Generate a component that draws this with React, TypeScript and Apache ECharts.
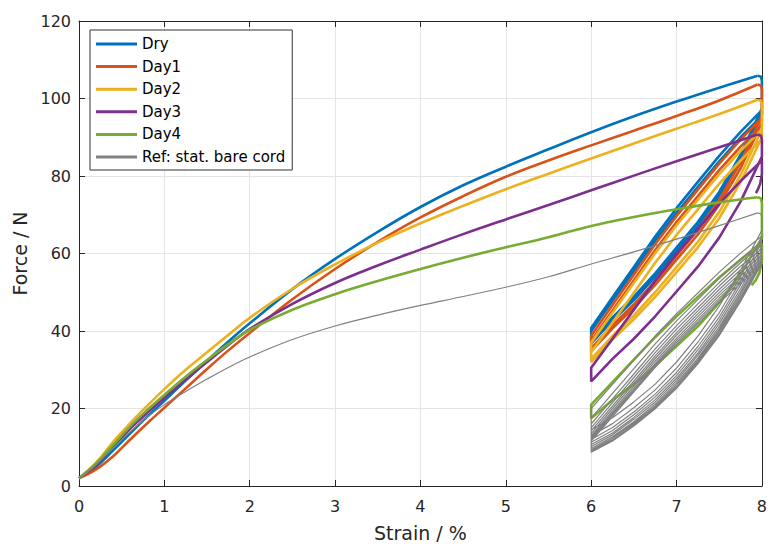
import React, { useEffect, useRef } from "react";
import * as echarts from "echarts";

// Initial ramp: strain (%) and force (N) for each specimen
const strainLoad = [0, 0.2, 0.4, 0.6, 0.8, 1.0, 1.25, 1.5, 1.75, 2.0, 2.5, 3.0, 3.5, 4.0, 4.5, 5.0, 5.5, 6.0, 6.5, 7.0, 7.5, 7.95];
const dryLoad = [2.0, 5.0, 9.2, 13.6, 17.9, 22.0, 27.2, 32.3, 37.3, 42.0, 50.8, 58.6, 65.6, 72.0, 77.6, 82.4, 86.9, 91.3, 95.4, 99.2, 102.8, 105.9];
const day1Load = [2.0, 4.3, 7.7, 12.0, 16.2, 20.2, 25.2, 30.2, 35.0, 39.5, 48.2, 56.0, 63.0, 69.3, 74.8, 79.8, 84.0, 87.9, 91.7, 95.5, 99.5, 103.6];
const day2Load = [2.0, 6.0, 11.4, 16.2, 20.7, 25.0, 30.0, 34.5, 39.0, 43.4, 50.9, 57.2, 62.8, 67.8, 72.3, 76.6, 80.6, 84.5, 88.4, 92.2, 96.0, 99.7];
const day3Load = [2.0, 5.4, 10.1, 14.8, 18.9, 22.8, 27.5, 32.0, 36.4, 40.5, 47.0, 52.4, 56.9, 61.0, 65.0, 68.8, 72.5, 76.3, 80.1, 83.8, 87.4, 90.7];
const day4Load = [2.0, 5.8, 10.6, 15.4, 19.6, 23.5, 28.2, 32.5, 36.6, 40.3, 45.5, 49.5, 52.9, 56.0, 58.9, 61.6, 64.2, 67.1, 69.4, 71.4, 73.2, 74.5];
const refLoad = [2.0, 5.5, 9.8, 14.0, 17.8, 21.0, 24.4, 27.6, 30.6, 33.3, 37.8, 41.3, 44.1, 46.6, 48.9, 51.3, 54.0, 57.3, 60.4, 63.7, 67.2, 70.5];

// Force drop right after the peak, at these strains
const peakDropStrain = [7.99, 8.0];
const dryPeakDrop = [105.6, 104.5];
const day1PeakDrop = [103.3, 102.3];
const day2PeakDrop = [99.4, 98.5];
const day3PeakDrop = [90.4, 89.4];
const day4PeakDrop = [74.2, 73.0];
const refPeakDrop = [70.2, 69.3];

// Cyclic part between 6 % and 8 % strain
const strainDown = [8, 7.75, 7.5, 7.25, 7, 6.75, 6.5, 6.25, 6];
const strainUp = [6, 6.25, 6.5, 6.75, 7, 7.25, 7.5, 7.75, 8];

const dryDown = [
  [97.5, 85.5, 75.9, 68.1, 61.5, 54.9, 48.9, 43.5, 37.5],
  [96.0, 84.2, 74.7, 67.0, 60.5, 54.0, 48.0, 42.7, 36.8],
];
const dryUp = [
  [40.8, 48.7, 56.5, 64.4, 71.7, 78.5, 85.2, 91.4, 97.0],
  [40.0, 47.8, 55.5, 63.3, 70.5, 77.2, 83.8, 90.0, 95.5],
];

const day1Down = [
  [95.5, 83.5, 73.9, 66.1, 59.5, 52.9, 46.9, 41.5, 35.5],
  [93.8, 82.0, 72.6, 64.9, 58.4, 51.9, 46.0, 40.7, 34.8],
];
const day1Up = [
  [38.8, 46.7, 54.5, 62.4, 69.7, 76.5, 83.2, 89.4, 95.0],
  [37.5, 45.3, 53.1, 60.9, 68.1, 74.8, 81.5, 87.6, 93.2],
];

const day2Down = [
  [92.0, 80.2, 70.7, 63.0, 56.5, 50.0, 44.0, 38.7, 32.8],
  [90.0, 78.4, 69.1, 61.6, 55.2, 48.8, 43.0, 37.8, 32.0],
];
const day2Up = [
  [37.0, 44.7, 52.4, 60.1, 67.3, 73.9, 80.5, 86.5, 92.0],
  [34.5, 42.2, 49.9, 57.6, 64.8, 71.4, 78.0, 84.0, 89.5],
];

const day3Down = [[85.0, 73.4, 64.1, 56.6, 50.2, 43.8, 38.0, 32.8, 27.0]];
const day3Up = [[30.5, 38.0, 45.5, 53.0, 59.9, 66.3, 72.8, 78.7, 84.0]];
const day3TailStrain = [8, 7.98, 7.95, 7.93];
const day3Tail = [80.5, 78.0, 76.4, 75.6];

const day4Down = [[64.0, 54.7, 47.3, 41.2, 36.1, 31.0, 26.3, 22.2, 17.5]];
const day4Up = [[21.0, 26.8, 32.6, 38.4, 43.8, 48.8, 53.8, 58.4, 62.5]];
const day4TailStrain = [8, 7.97, 7.93, 7.88];
const day4Tail = [58.0, 55.0, 53.2, 51.8];

const refDown = [
  [66.0, 55.7, 46.4, 38.7, 32.0, 26.3, 21.7, 17.6, 14.5],
  [64.2, 54.0, 44.7, 37.1, 30.4, 24.8, 20.2, 16.1, 13.0],
  [63.0, 52.8, 43.6, 36.0, 29.3, 23.7, 19.1, 15.1, 12.0],
  [62.0, 51.9, 42.7, 35.1, 28.5, 23.0, 18.4, 14.3, 11.3],
  [61.0, 50.9, 41.9, 34.3, 27.8, 22.3, 17.7, 13.7, 10.7],
  [60.1, 50.1, 41.1, 33.7, 27.2, 21.7, 17.2, 13.2, 10.2],
  [59.3, 49.4, 40.5, 33.0, 26.6, 21.1, 16.6, 12.7, 9.7],
  [58.6, 48.7, 39.9, 32.5, 26.1, 20.6, 16.2, 12.3, 9.3],
  [57.9, 48.1, 39.3, 32.0, 25.6, 20.2, 15.8, 11.9, 9.0],
  [57.3, 47.6, 38.8, 31.5, 25.2, 19.9, 15.5, 11.6, 8.7],
];
const refUp = [
  [20.0, 26.2, 32.5, 38.7, 44.5, 49.8, 55.2, 60.1, 64.5],
  [17.5, 23.9, 30.3, 36.7, 42.6, 48.1, 53.6, 58.6, 63.2],
  [16.0, 22.5, 28.9, 35.4, 41.4, 47.0, 52.5, 57.6, 62.2],
  [15.0, 21.5, 28.0, 34.4, 40.5, 46.0, 51.6, 56.7, 61.3],
  [14.2, 20.7, 27.1, 33.6, 39.6, 45.2, 50.7, 55.8, 60.4],
  [13.5, 20.0, 26.4, 32.9, 38.9, 44.4, 49.9, 55.0, 59.6],
  [12.9, 19.3, 25.8, 32.2, 38.1, 43.7, 49.2, 54.2, 58.8],
  [12.4, 18.8, 25.2, 31.6, 37.5, 43.0, 48.5, 53.5, 58.1],
  [12.0, 18.4, 24.7, 31.1, 37.0, 42.4, 47.9, 52.9, 57.4],
  [11.6, 17.9, 24.3, 30.6, 36.5, 41.9, 47.3, 52.3, 56.8],
];

const seriesNames = ["Dry", "Day1", "Day2", "Day3", "Day4", "Ref: stat. bare cord"];
const seriesColors = ["#0072BD", "#D95319", "#EDB120", "#7E2F8E", "#77AC30", "#808080"];

const FONT = "'DejaVu Sans', 'Liberation Sans', Arial, sans-serif";
const INK = "#262626";

type Pt = [number, number];

function zip(xs: number[], ys: number[]): Pt[] {
  return ys.map((y, i) => [xs[i], y] as Pt);
}

function cyclePath(load: number[], drop: number[], downs: number[][], ups: number[][], tailX: number[] = [], tail: number[] = []): Pt[] {
  const pts: Pt[] = [[strainLoad[strainLoad.length - 1], load[load.length - 1]]];
  pts.push(...zip(peakDropStrain, drop));
  downs.forEach((d, k) => {
    pts.push(...zip(strainDown, d));
    if (ups[k]) pts.push(...zip(strainUp, ups[k]));
  });
  pts.push(...zip(tailX, tail));
  return pts;
}

export default function App() {
  const ref = useRef<HTMLDivElement>(null);

  useEffect(() => {
    if (!ref.current) return;
    const chart = echarts.init(ref.current, undefined, { renderer: "svg" });

    const loads = [dryLoad, day1Load, day2Load, day3Load, day4Load, refLoad];
    const cycles = [
      cyclePath(dryLoad, dryPeakDrop, dryDown, dryUp),
      cyclePath(day1Load, day1PeakDrop, day1Down, day1Up),
      cyclePath(day2Load, day2PeakDrop, day2Down, day2Up),
      cyclePath(day3Load, day3PeakDrop, day3Down, day3Up, day3TailStrain, day3Tail),
      cyclePath(day4Load, day4PeakDrop, day4Down, day4Up, day4TailStrain, day4Tail),
      cyclePath(refLoad, refPeakDrop, refDown, refUp),
    ];

    const series: any[] = [];
    seriesNames.forEach((name, i) => {
      const width = i === 5 ? 1.2 : 2.6;
      const common = {
        name,
        type: "line",
        symbol: "none",
        showSymbol: false,
        color: seriesColors[i],
        lineStyle: { color: seriesColors[i], width },
        emphasis: { disabled: true },
        xAxisIndex: 0,
        yAxisIndex: 0,
      };
      series.push({ ...common, smooth: 0.4, data: zip(strainLoad, loads[i]) });
      series.push({ ...common, smooth: false, data: cycles[i] });
    });

    const boxAxis = {
      axisLine: { show: true, onZero: false, lineStyle: { color: INK, width: 1 } },
      axisTick: { show: true, inside: true, length: 6, lineStyle: { color: INK } },
    };

    chart.setOption({
      animation: false,
      backgroundColor: "#ffffff",
      textStyle: { fontFamily: FONT },
      grid: { left: 79, right: 4, top: 21, bottom: 57, containLabel: false },
      legend: {
        data: seriesNames.map((n, i) => ({
          name: n,
          icon: "rect",
          itemStyle: { color: seriesColors[i] },
        })),
        orient: "vertical",
        left: 90,
        top: 30,
        padding: [6, 7, 5, 6],
        itemGap: 6.6,
        itemWidth: 41,
        itemHeight: 3,
        backgroundColor: "#ffffff",
        borderColor: "#333333",
        borderWidth: 1,
        borderRadius: 0,
        selectedMode: false,
        textStyle: { fontSize: 15, color: "#000000", fontFamily: FONT, lineHeight: 16 },
      },
      xAxis: [
        {
          type: "value",
          min: 0,
          max: 8,
          interval: 1,
          position: "bottom",
          ...boxAxis,
          axisLabel: { color: INK, fontSize: 16, margin: 12, fontFamily: FONT },
          splitLine: { show: true, lineStyle: { color: "#e5e5e5", width: 1 } },
          name: "Strain / %",
          nameLocation: "middle",
          nameGap: 37,
          nameTextStyle: { color: INK, fontSize: 19, fontFamily: FONT },
        },
        {
          type: "value",
          min: 0,
          max: 8,
          interval: 1,
          position: "top",
          ...boxAxis,
          axisLabel: { show: false },
          splitLine: { show: false },
        },
      ],
      yAxis: [
        {
          type: "value",
          min: 0,
          max: 120,
          interval: 20,
          position: "left",
          ...boxAxis,
          axisLabel: { color: INK, fontSize: 16, margin: 8, fontFamily: FONT },
          splitLine: { show: true, lineStyle: { color: "#e5e5e5", width: 1 } },
          name: "Force / N",
          nameLocation: "middle",
          nameGap: 43,
          nameRotate: 90,
          nameTextStyle: { color: INK, fontSize: 19, fontFamily: FONT },
        },
        {
          type: "value",
          min: 0,
          max: 120,
          interval: 20,
          position: "right",
          ...boxAxis,
          axisLabel: { show: false },
          splitLine: { show: false },
        },
      ],
      series,
    });

    return () => chart.dispose();
  }, []);

  return (
    <div
      ref={ref}
      style={{ position: "fixed", left: 0, top: 0, width: 770, height: 547, background: "#ffffff" }}
    />
  );
}
